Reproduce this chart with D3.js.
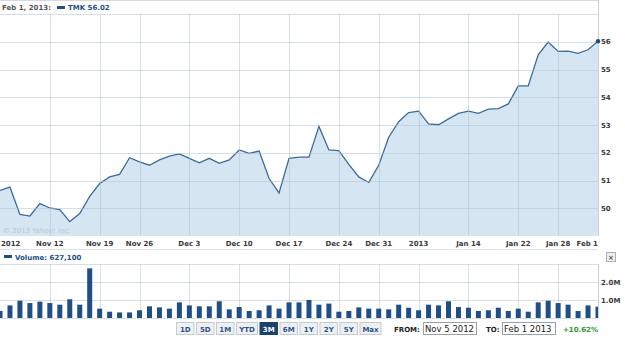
<!DOCTYPE html>
<html><head><meta charset="utf-8">
<script src="https://cdn.jsdelivr.net/npm/d3@7"></script>
<style>body{margin:0;background:#fff}svg{display:block}text{font-family:"DejaVu Sans",Verdana,sans-serif}</style>
</head><body><svg id="c" width="625" height="337"></svg>
<script>
const dates = [
"2012-11-05","2012-11-06","2012-11-07","2012-11-08","2012-11-09",
"2012-11-12","2012-11-13","2012-11-14","2012-11-15","2012-11-16",
"2012-11-19","2012-11-20","2012-11-21","2012-11-23",
"2012-11-26","2012-11-27","2012-11-28","2012-11-29","2012-11-30",
"2012-12-03","2012-12-04","2012-12-05","2012-12-06","2012-12-07",
"2012-12-10","2012-12-11","2012-12-12","2012-12-13","2012-12-14",
"2012-12-17","2012-12-18","2012-12-19","2012-12-20","2012-12-21",
"2012-12-24","2012-12-26","2012-12-27","2012-12-28",
"2012-12-31","2013-01-02","2013-01-03","2013-01-04",
"2013-01-07","2013-01-08","2013-01-09","2013-01-10","2013-01-11",
"2013-01-14","2013-01-15","2013-01-16","2013-01-17","2013-01-18",
"2013-01-22","2013-01-23","2013-01-24","2013-01-25",
"2013-01-28","2013-01-29","2013-01-30","2013-01-31","2013-02-01"];
const prices = [
50.64,50.76,49.78,49.72,50.17,
50.01,49.95,49.52,49.81,50.43,
50.89,51.13,51.22,51.82,
51.67,51.55,51.74,51.88,51.96,
51.80,51.64,51.80,51.62,51.74,
52.10,51.98,52.06,51.07,50.55,
51.80,51.84,51.84,52.95,52.10,
52.08,51.58,51.13,50.93,
51.55,52.56,53.12,53.45,
53.50,53.04,53.01,53.22,53.42,
53.50,53.42,53.57,53.59,53.76,
54.41,54.41,55.53,55.99,
55.65,55.66,55.58,55.71,56.02];
const volumes = [
0.39,0.70,0.96,0.83,0.91,
0.83,0.74,1.04,0.74,2.76,
0.52,0.35,0.31,0.31,
0.43,0.65,0.59,0.52,0.87,
0.70,0.65,0.65,0.93,0.48,
0.61,0.39,0.43,0.70,0.52,
0.87,0.87,1.00,0.74,0.80,
0.35,0.39,0.59,0.52,
0.52,0.48,0.74,0.57,
0.43,0.74,0.70,0.93,0.61,
0.57,0.39,0.43,0.57,0.39,
0.52,0.35,0.87,0.96,
0.83,0.74,0.39,0.70,0.6271];
const tickDates = ["2012-11-05","2012-11-12","2012-11-19","2012-11-26","2012-12-03","2012-12-10","2012-12-17","2012-12-24","2012-12-31","2013-01-07","2013-01-14","2013-01-22","2013-01-28","2013-02-01"];
const tickLabels = ["2012","Nov 12","Nov 19","Nov 26","Dec 3","Dec 10","Dec 17","Dec 24","Dec 31","2013","Jan 14","Jan 22","Jan 28","Feb 1"];
const priceTicks = [50,51,52,53,54,55,56];
const volTicks = [1,2];
const volTickLabels = ["1.0M","2.0M"];
const buttons = ["1D","5D","1M","YTD","3M","6M","1Y","2Y","5Y","Max"];
const selectedButton = "3M";

const svg = d3.select("#c");
const W = 598;
const x = d3.scaleLinear().domain([0, dates.length-1]).range([0, W]);
const y = d3.scaleLinear().domain([49,57]).range([236,14]);
const yv = d3.scaleLinear().domain([0,3]).range([318,264]);
const gridC = "#d3dce6";
const labelC = "#3a3a3a";

// frame / header
svg.append("line").attr("x1",0).attr("x2",W).attr("y1",0.5).attr("y2",0.5).attr("stroke","#d6dbe0");
svg.append("text").attr("x",2).attr("y",10).attr("font-size",7).attr("font-weight","bold").attr("fill","#555").text("Feb 1, 2013:");
svg.append("rect").attr("x",57).attr("y",6).attr("width",8).attr("height",3).attr("fill","#1f4f86");
svg.append("text").attr("x",68).attr("y",10).attr("font-size",7).attr("font-weight","bold").attr("fill","#1f4f86")
  .text("TMK " + prices[prices.length-1].toFixed(2));

const clip = svg.append("clipPath").attr("id","pc").append("rect").attr("x",0).attr("y",14).attr("width",W).attr("height",222);
const clipv = svg.append("clipPath").attr("id","vc").append("rect").attr("x",0).attr("y",264).attr("width",W).attr("height",54);

// area + line
const idx = d3.range(prices.length);
const area = d3.area().x(i=>x(i)).y0(236).y1(i=>y(prices[i]));
const line = d3.line().x(i=>x(i)).y(i=>y(prices[i]));
const pg = svg.append("g").attr("clip-path","url(#pc)");
pg.append("path").datum(idx).attr("d",area).attr("fill","#d5e5f1");

// grid price
const tickIdx = tickDates.map(d=>dates.indexOf(d));
const gg = svg.append("g");
gg.selectAll(".hg").data(priceTicks.concat([57])).join("line")
  .attr("x1",0).attr("x2",W).attr("y1",d=>Math.round(y(d))+0.5).attr("y2",d=>Math.round(y(d))+0.5)
  .attr("stroke","#aebfd0").attr("stroke-opacity",0.5);
gg.selectAll(".vg").data(tickIdx.slice(1,-1)).join("line")
  .attr("x1",i=>Math.round(x(i))+0.5).attr("x2",i=>Math.round(x(i))+0.5).attr("y1",14).attr("y2",236)
  .attr("stroke","#aebfd0").attr("stroke-opacity",0.5);
svg.append("line").attr("x1",W+0.5).attr("x2",W+0.5).attr("y1",0).attr("y2",236).attr("stroke","#c8d0d8");

pg.append("path").datum(idx).attr("d",line).attr("fill","none").attr("stroke","#3c6b9d").attr("stroke-width",1.3);
svg.append("circle").attr("cx",x(prices.length-1)).attr("cy",y(prices[prices.length-1])).attr("r",2.3).attr("fill","#1f4f86");

svg.append("text").attr("x",3).attr("y",233).attr("font-size",7).attr("fill","#b7c9d9").text("© 2013 Yahoo! Inc.");

// y labels price
svg.selectAll(".yl").data(priceTicks).join("text")
  .attr("x",601).attr("y",d=>y(d)+2.5).attr("font-size",7).attr("font-weight","bold").attr("fill",labelC).text(d=>d);

// x labels
svg.selectAll(".xl").data(tickIdx).join("text")
  .attr("x",(i,k)=> k===0 ? 1 : x(i)).attr("y",246)
  .attr("text-anchor",(i,k)=> k===0 ? "start" : (k===tickIdx.length-1 ? "end" : "middle"))
  .attr("font-size",7).attr("font-weight","bold").attr("fill",labelC).text((i,k)=>tickLabels[k]);

// volume pane
svg.append("line").attr("x1",0).attr("x2",W).attr("y1",249.5).attr("y2",249.5).attr("stroke","#dde2e7");
svg.append("rect").attr("x",4).attr("y",255).attr("width",8).attr("height",3).attr("fill","#1f4f86");
svg.append("text").attr("x",15).attr("y",259.5).attr("font-size",7).attr("font-weight","bold").attr("fill","#1f4f86")
  .text("Volume: " + d3.format(",")(Math.round(volumes[volumes.length-1]*1e6)));
// close button
svg.append("rect").attr("x",606.5).attr("y",252.5).attr("width",9).attr("height",9).attr("fill","#eceef1").attr("stroke","#a9b0b8");
svg.append("text").attr("x",611).attr("y",259.5).attr("text-anchor","middle").attr("font-size",7).attr("font-weight","bold").attr("fill","#555").text("×");

const vg = svg.append("g");
vg.selectAll(".vh").data([0,1,2,3]).join("line")
  .attr("x1",0).attr("x2",W).attr("y1",d=>Math.round(yv(d))+0.5).attr("y2",d=>Math.round(yv(d))+0.5)
  .attr("stroke","#aebfd0").attr("stroke-opacity",0.5);
vg.selectAll(".vv").data(tickIdx.slice(1,-1)).join("line")
  .attr("x1",i=>Math.round(x(i))+0.5).attr("x2",i=>Math.round(x(i))+0.5).attr("y1",264).attr("y2",318)
  .attr("stroke","#aebfd0").attr("stroke-opacity",0.5);
svg.append("line").attr("x1",W+0.5).attr("x2",W+0.5).attr("y1",264).attr("y2",318).attr("stroke","#c8d0d8");
svg.append("g").attr("clip-path","url(#vc)").selectAll("rect").data(idx).join("rect")
  .attr("x",i=>x(i)-2.5).attr("width",5).attr("y",i=>yv(volumes[i])).attr("height",i=>yv(0)-yv(volumes[i]))
  .attr("fill","#1f4f86");
svg.selectAll(".vl").data(volTicks).join("text")
  .attr("x",601).attr("y",d=>yv(d)+2.5).attr("font-size",7).attr("font-weight","bold").attr("fill",labelC).text((d,k)=>volTickLabels[k]);

// buttons
const bx = d3.scaleBand().domain(buttons).range([176,380]).paddingInner(0.06);
const widths = {"YTD":1.2,"Max":1.2};
let cx = 176;
buttons.forEach(b=>{
  const w = b==="YTD"||b==="Max" ? 22 : 18.5;
  const sel = b===selectedButton;
  svg.append("rect").attr("x",cx+0.5).attr("y",322.5).attr("width",w-1).attr("height",12)
    .attr("fill",sel?"#1d416f":"#eef0f3").attr("stroke",sel?"#1d416f":"#c4cad1");
  svg.append("text").attr("x",cx+w/2).attr("y",331.5).attr("text-anchor","middle").attr("font-size",7).attr("font-weight","bold")
    .attr("fill",sel?"#fff":"#2c5488").text(b);
  cx += w + 1.5;
});
svg.append("text").attr("x",394).attr("y",331.5).attr("font-size",7).attr("font-weight","bold").attr("fill","#222").text("FROM:");
svg.append("rect").attr("x",423.5).attr("y",322.5).attr("width",53).attr("height",12).attr("fill","#fff").attr("stroke","#9aa0a6");
svg.append("text").attr("x",425).attr("y",332).attr("font-family","Liberation Sans, Arial").attr("font-size",8.5).attr("fill","#222").text("Nov 5 2012");
svg.append("text").attr("x",486).attr("y",331.5).attr("font-size",7).attr("font-weight","bold").attr("fill","#222").text("TO:");
svg.append("rect").attr("x",502.5).attr("y",322.5).attr("width",53).attr("height",12).attr("fill","#fff").attr("stroke","#9aa0a6");
svg.append("text").attr("x",504).attr("y",332).attr("font-family","Liberation Sans, Arial").attr("font-size",8.5).attr("fill","#222").text("Feb 1 2013");
const chg = (prices[prices.length-1]/prices[0]-1)*100;
svg.append("text").attr("x",598).attr("y",331.5).attr("text-anchor","end").attr("font-size",7).attr("font-weight","bold").attr("fill","#2e9a2e").text("+10.62%");
</script></body></html>
